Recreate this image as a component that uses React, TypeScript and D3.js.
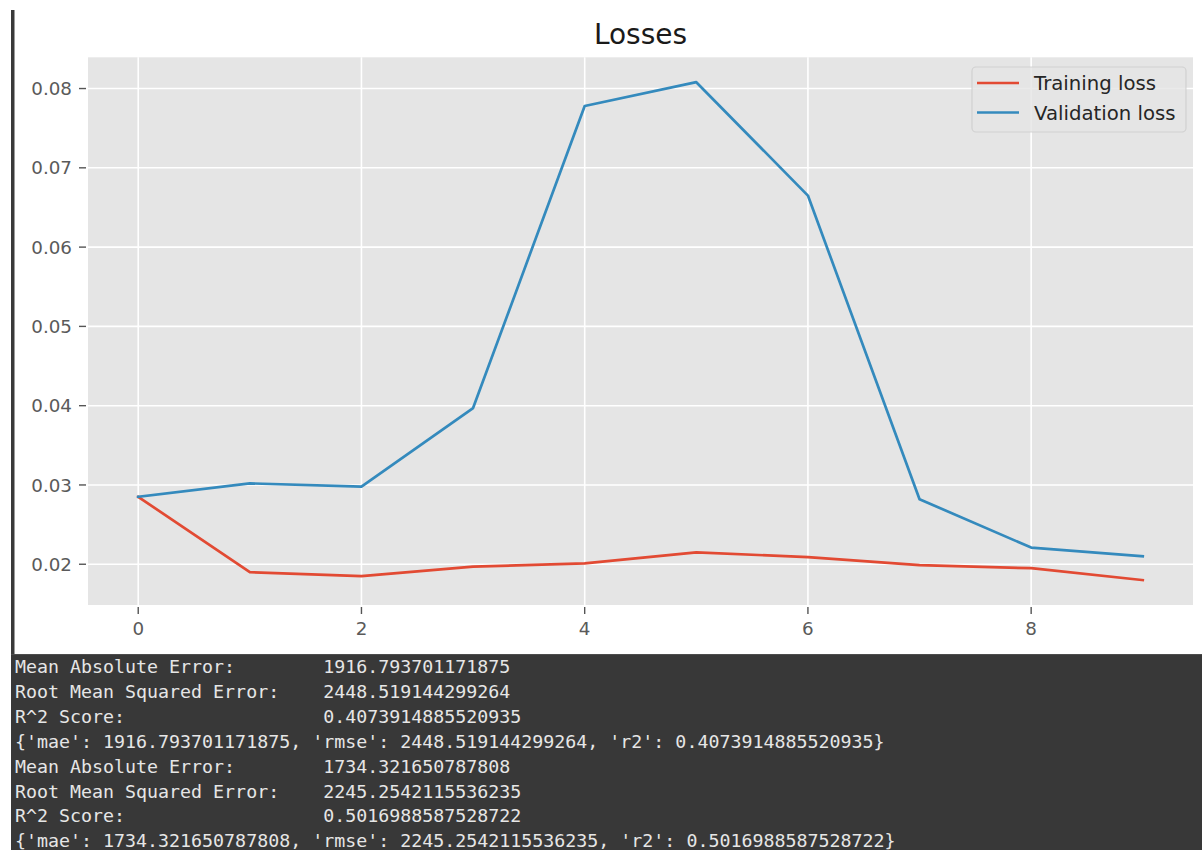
import React from "react";
import * as d3 from "d3";

const epochs = [0, 1, 2, 3, 4, 5, 6, 7, 8, 9];
const trainingLoss = [0.0285, 0.0190, 0.0185, 0.0197, 0.0201, 0.0215, 0.0209, 0.0199, 0.0195, 0.0180];
const validationLoss = [0.0285, 0.0302, 0.0298, 0.0397, 0.0778, 0.0808, 0.0665, 0.0282, 0.0221, 0.0210];
const xTicks = [0, 2, 4, 6, 8];
const yTicks = [0.02, 0.03, 0.04, 0.05, 0.06, 0.07, 0.08];
const seriesNames = ["Training loss", "Validation loss"];
const seriesColors = ["#E24A33", "#348ABD"];
const consoleLines = [
  "Mean Absolute Error:        1916.793701171875",
  "Root Mean Squared Error:    2448.519144299264",
  "R^2 Score:                  0.4073914885520935",
  "{'mae': 1916.793701171875, 'rmse': 2448.519144299264, 'r2': 0.4073914885520935}",
  "Mean Absolute Error:        1734.321650787808",
  "Root Mean Squared Error:    2245.2542115536235",
  "R^2 Score:                  0.5016988587528722",
  "{'mae': 1734.321650787808, 'rmse': 2245.2542115536235, 'r2': 0.5016988587528722}",
];

const W = 1202;
const H = 850;
const plot = { left: 88, right: 1193, top: 57.3, bottom: 605 };

export default function App() {
  const xPad = (9 - 0) * 0.05;
  const x = d3.scaleLinear().domain([0 - xPad, 9 + xPad]).range([plot.left, plot.right]);
  const all = [...trainingLoss, ...validationLoss];
  const [mn, mx] = d3.extent(all) as [number, number];
  const yPad = (mx - mn) * 0.05;
  const y = d3.scaleLinear().domain([mn - yPad, mx + yPad]).range([plot.bottom, plot.top]);
  const line = d3
    .line<number>()
    .x((_, i) => x(epochs[i]))
    .y((d) => y(d));
  const series = [trainingLoss, validationLoss];
  const font = "'DejaVu Sans', sans-serif";

  return (
    <svg
      width={W}
      height={H}
      viewBox={`0 0 ${W} ${H}`}
      style={{ position: "absolute", left: 0, top: 0, background: "#ffffff" }}
    >
      <rect x={0} y={0} width={W} height={H} fill="#ffffff" />
      {/* plot background */}
      <rect
        x={plot.left}
        y={plot.top}
        width={plot.right - plot.left}
        height={plot.bottom - plot.top}
        fill="#E5E5E5"
      />
      {/* grid */}
      {xTicks.map((t) => (
        <line key={"gx" + t} x1={x(t)} x2={x(t)} y1={plot.top} y2={plot.bottom} stroke="#ffffff" strokeWidth={1.6} />
      ))}
      {yTicks.map((t) => (
        <line key={"gy" + t} x1={plot.left} x2={plot.right} y1={y(t)} y2={y(t)} stroke="#ffffff" strokeWidth={1.6} />
      ))}
      {/* ticks */}
      {xTicks.map((t) => (
        <g key={"tx" + t}>
          <line x1={x(t)} x2={x(t)} y1={607} y2={614} stroke="#555555" strokeWidth={1.4} />
          <text x={x(t)} y={635} textAnchor="middle" fontFamily={font} fontSize={18.3} fill="#5a5a5a">
            {t}
          </text>
        </g>
      ))}
      {yTicks.map((t) => (
        <g key={"ty" + t}>
          <line x1={79} x2={86} y1={y(t)} y2={y(t)} stroke="#555555" strokeWidth={1.4} />
          <text x={72} y={y(t) + 6.6} textAnchor="end" fontFamily={font} fontSize={18.3} fill="#5a5a5a">
            {t.toFixed(2)}
          </text>
        </g>
      ))}
      {/* lines */}
      {series.map((s, i) => (
        <path
          key={"s" + i}
          d={line(s) || ""}
          fill="none"
          stroke={seriesColors[i]}
          strokeWidth={2.7}
          strokeLinejoin="round"
          strokeLinecap="square"
        />
      ))}
      {/* title */}
      <text x={(plot.left + plot.right) / 2} y={44} textAnchor="middle" fontFamily={font} fontSize={28} fill="#1a1a1a">
        Losses
      </text>
      {/* legend */}
      <rect
        x={972}
        y={67}
        width={214}
        height={65}
        rx={4}
        fill="#E5E5E5"
        fillOpacity={0.8}
        stroke="#cccccc"
        strokeOpacity={0.8}
        strokeWidth={1.2}
      />
      {seriesNames.map((n, i) => (
        <g key={"lg" + i}>
          <line
            x1={977}
            x2={1019}
            y1={83 + i * 29.5}
            y2={83 + i * 29.5}
            stroke={seriesColors[i]}
            strokeWidth={2.7}
          />
          <text x={1034} y={83 + i * 29.5 + 7} fontFamily={font} fontSize={19.7} fill="#262626">
            {n}
          </text>
        </g>
      ))}
      {/* left border */}
      <rect x={11} y={10} width={3.5} height={H - 10} fill="#3a3a3a" />
      {/* console */}
      <rect x={11} y={654} width={W - 11} height={H - 654} fill="#383838" />
      <line x1={11} x2={W} y1={654.5} y2={654.5} stroke="#4d4d4d" strokeWidth={1.2} />
      {consoleLines.map((l, i) => (
        <text
          key={"c" + i}
          x={15}
          y={673 + i * 24.9}
          fontFamily="'DejaVu Sans Mono', monospace"
          fontSize={18.3}
          fill="#e6e6e6"
          style={{ whiteSpace: "pre" }}
          xmlSpace="preserve"
        >
          {l}
        </text>
      ))}
    </svg>
  );
}
